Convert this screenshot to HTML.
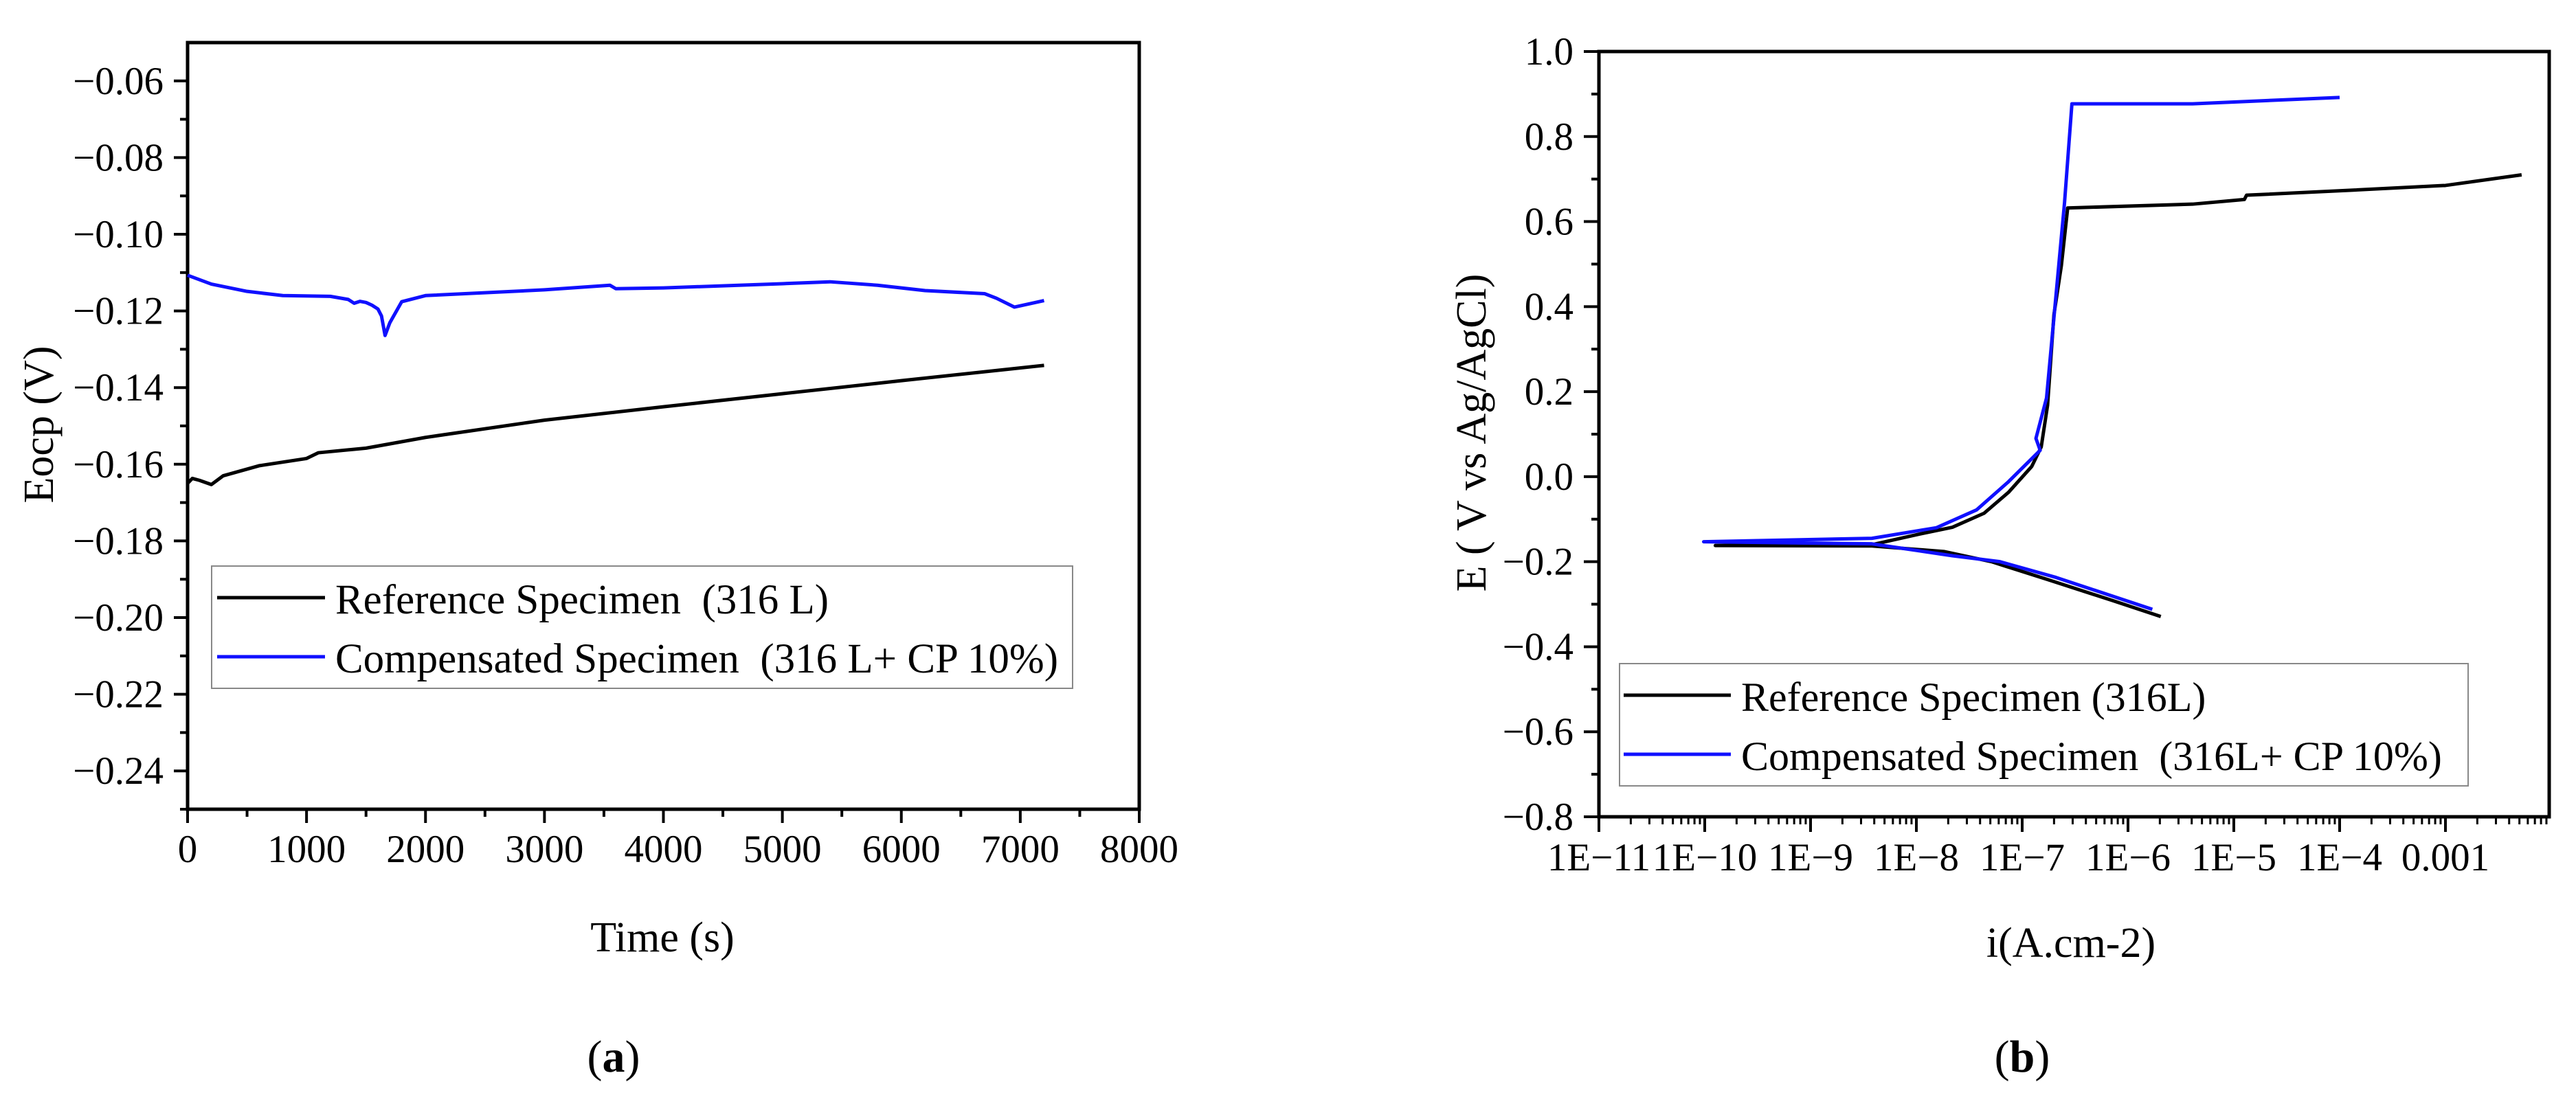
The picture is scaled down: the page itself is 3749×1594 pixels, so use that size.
<!DOCTYPE html>
<html><head><meta charset="utf-8"><style>
html,body{margin:0;padding:0;background:#fff}
svg{display:block}
text{font-family:"Liberation Serif",serif;fill:#000;white-space:pre}
</style></head><body>
<svg id="fig" width="3749" height="1594" viewBox="0 0 3749 1594" xmlns="http://www.w3.org/2000/svg"></svg>
<script>
// ---- Chart (a) data ----
const aRefT=[0,40,100,200,300,600,1000,1100,1500,2000,3000,4000,5000,6000,7200];
const aRefV=[-0.165,-0.1637,-0.1642,-0.1653,-0.163,-0.1604,-0.1585,-0.157,-0.1558,-0.153,-0.1485,-0.145,-0.1416,-0.1382,-0.1342];
const aCmpT=[0,200,500,800,1200,1350,1400,1450,1500,1550,1600,1630,1660,1700,1800,2000,3000,3550,3600,4000,5000,5400,5800,6200,6700,6800,6950,7200];
const aCmpV=[-0.1107,-0.113,-0.1149,-0.116,-0.1162,-0.117,-0.118,-0.1175,-0.1178,-0.1185,-0.1195,-0.1213,-0.1264,-0.1231,-0.1176,-0.116,-0.1145,-0.1133,-0.1142,-0.114,-0.1129,-0.1124,-0.1133,-0.1147,-0.1155,-0.1167,-0.119,-0.1173];
const aXTicks=[0,1000,2000,3000,4000,5000,6000,7000,8000];
const aYTicks=[-0.24,-0.22,-0.20,-0.18,-0.16,-0.14,-0.12,-0.10,-0.08,-0.06];
// ---- Chart (b) data (log10 current, potential) ----
const bRefLogI=[-5.69,-6.15,-6.76,-7.29,-7.74,-8.42,-9.9,-8.42,-7.97,-7.66,-7.36,-7.13,-6.91,-6.82,-6.76,-6.70,-6.63,-6.57,-5.39,-4.90,-4.88,-3.87,-3.0,-2.28];
const bRefE=[-0.329,-0.291,-0.242,-0.20,-0.176,-0.163,-0.162,-0.160,-0.135,-0.119,-0.086,-0.037,0.024,0.07,0.168,0.381,0.496,0.632,0.641,0.652,0.662,0.674,0.685,0.710];
const bCmpLogI=[-5.77,-6.68,-7.21,-7.66,-8.12,-8.42,-10.01,-8.42,-7.81,-7.43,-7.13,-6.83,-6.87,-6.77,-6.60,-6.53,-5.39,-4.0];
const bCmpE=[-0.312,-0.237,-0.20,-0.186,-0.169,-0.158,-0.153,-0.145,-0.12,-0.078,-0.012,0.062,0.09,0.185,0.644,0.877,0.877,0.892];
const bXTickLabels=["1E−11","1E−10","1E−9","1E−8","1E−7","1E−6","1E−5","1E−4","0.001"];
const bXTickLogs=[-11,-10,-9,-8,-7,-6,-5,-4,-3];
const bYTicks=[-0.8,-0.6,-0.4,-0.2,0.0,0.2,0.4,0.6,0.8,1.0];

const NS="http://www.w3.org/2000/svg";
const svg=document.getElementById('fig');
function el(tag,attrs,parent,txt){const e=document.createElementNS(NS,tag);for(const k in attrs)e.setAttribute(k,attrs[k]);if(txt!==undefined)e.textContent=txt;(parent||svg).appendChild(e);return e;}
const fmtM=v=>(v<0?"−":"")+Math.abs(v).toFixed(2);

// ===== Chart A =====
const A={l:273,r:1658,t:62,b:1178,x0:0,x1:8000,y0:-0.25,y1:-0.05};
const ax=v=>A.l+(v-A.x0)/(A.x1-A.x0)*(A.r-A.l);
const ay=v=>A.b-(v-A.y0)/(A.y1-A.y0)*(A.b-A.t);
const ga=el('g',{});


for(let i=0;i<aXTicks.length;i++){
  const x=ax(aXTicks[i]);
  el('line',{x1:x,y1:A.b,x2:x,y2:A.b+20,stroke:'#000','stroke-width':4},ga);
  const lb=el('text',{x:x,y:1255,'font-size':57,'text-anchor':'middle'},ga,String(aXTicks[i]));
  
  
  if(i<aXTicks.length-1){const xm=ax(aXTicks[i]+500);el('line',{x1:xm,y1:A.b,x2:xm,y2:A.b+11,stroke:'#000','stroke-width':4},ga);}
}
for(let i=0;i<aYTicks.length;i++){
  const y=ay(aYTicks[i]);
  el('line',{x1:A.l,y1:y,x2:A.l-20,y2:y,stroke:'#000','stroke-width':4},ga);
  const lb=el('text',{x:238,y:y+19,'font-size':57,'text-anchor':'end'},ga,fmtM(aYTicks[i]));
  
  
  const ym=ay(aYTicks[i]-0.01);el('line',{x1:A.l,y1:ym,x2:A.l-11,y2:ym,stroke:'#000','stroke-width':4},ga);
}
el('line',{x1:A.l,y1:ay(-0.05)+0,x2:A.l,y2:ay(-0.05),stroke:'#000','stroke-width':4},ga);
const fa=el('rect',{x:A.l,y:A.t,width:A.r-A.l,height:A.b-A.t,fill:'none',stroke:'#000','stroke-width':5},ga);


const pa1=el('polyline',{points:aRefT.map((t,i)=>ax(t)+','+ay(aRefV[i])).join(' '),fill:'none',stroke:'#000','stroke-width':5,'stroke-linejoin':'round'},ga);


const pa2=el('polyline',{points:aCmpT.map((t,i)=>ax(t)+','+ay(aCmpV[i])).join(' '),fill:'none',stroke:'#1010ff','stroke-width':5,'stroke-linejoin':'round'},ga);


const ta=el('text',{x:964,y:1385,'font-size':62,'text-anchor':'middle'},ga,'Time (s)');


const tya=el('text',{x:0,y:0,'font-size':62,'text-anchor':'middle',transform:'translate(77,618) rotate(-90)'},ga,'Eocp (V)');


const lga=el('g',{},ga);


el('rect',{x:308,y:824,width:1253,height:178,fill:'#fff',stroke:'#888','stroke-width':2},lga);
el('line',{x1:316,y1:870,x2:473,y2:870,stroke:'#000','stroke-width':5},lga);
el('text',{x:488,y:893,'font-size':61},lga,'Reference Specimen  (316 L)');
el('line',{x1:316,y1:956,x2:473,y2:956,stroke:'#1010ff','stroke-width':5},lga);
el('text',{x:488,y:979,'font-size':61},lga,'Compensated Specimen  (316 L+ CP 10%)');
const capa=el('text',{x:893,y:1560,'font-size':66,'text-anchor':'middle'},ga);


capa.innerHTML='(<tspan font-weight="bold">a</tspan>)';

// ===== Chart B =====
const B={l:2327,r:3710,t:75,b:1189,x0:-11,y0:-0.8,y1:1.0,dec:154};
const bx=v=>B.l+(v-B.x0)*B.dec;
const by=v=>B.b-(v-B.y0)/(B.y1-B.y0)*(B.b-B.t);
const gb=el('g',{});


for(let i=0;i<bXTickLogs.length;i++){
  const x=bx(bXTickLogs[i]);
  el('line',{x1:x,y1:B.b,x2:x,y2:B.b+22,stroke:'#000','stroke-width':4},gb);
  const lb=el('text',{x:x,y:1267,'font-size':57,'text-anchor':'middle'},gb,bXTickLabels[i]);
  
  
}
for(let d=-11;d<=-3;d++){for(let m=2;m<=9;m++){const x=bx(d+Math.log10(m));if(x<B.r)el('line',{x1:x,y1:B.b,x2:x,y2:B.b+11,stroke:'#000','stroke-width':3},gb);}}
for(let i=0;i<bYTicks.length;i++){
  const y=by(bYTicks[i]);
  el('line',{x1:B.l,y1:y,x2:B.l-22,y2:y,stroke:'#000','stroke-width':4},gb);
  const lb=el('text',{x:2290,y:y+19,'font-size':57,'text-anchor':'end'},gb,(bYTicks[i]<0?"−":"")+Math.abs(bYTicks[i]).toFixed(1));
  
  
  if(i<bYTicks.length-1){const ym=by(bYTicks[i]+0.1);el('line',{x1:B.l,y1:ym,x2:B.l-11,y2:ym,stroke:'#000','stroke-width':4},gb);}
}
const fb=el('rect',{x:B.l,y:B.t,width:B.r-B.l,height:B.b-B.t,fill:'none',stroke:'#000','stroke-width':5},gb);


const pb1=el('polyline',{points:bRefLogI.map((v,i)=>bx(v)+','+by(bRefE[i])).join(' '),fill:'none',stroke:'#000','stroke-width':5,'stroke-linejoin':'round'},gb);


const pb2=el('polyline',{points:bCmpLogI.map((v,i)=>bx(v)+','+by(bCmpE[i])).join(' '),fill:'none',stroke:'#1010ff','stroke-width':5,'stroke-linejoin':'round'},gb);


const tb=el('text',{x:3014,y:1393,'font-size':62,'text-anchor':'middle'},gb,'i(A.cm-2)');


const tyb=el('text',{x:0,y:0,'font-size':62,'text-anchor':'middle',transform:'translate(2162,630) rotate(-90)'},gb,'E ( V vs Ag/AgCl)');


const lgb=el('g',{},gb);


el('rect',{x:2357,y:966,width:1235,height:178,fill:'#fff',stroke:'#888','stroke-width':2},lgb);
el('line',{x1:2363,y1:1012,x2:2519,y2:1012,stroke:'#000','stroke-width':5},lgb);
el('text',{x:2534,y:1035,'font-size':60},lgb,'Reference Specimen (316L)');
el('line',{x1:2363,y1:1098,x2:2519,y2:1098,stroke:'#1010ff','stroke-width':5},lgb);
el('text',{x:2534,y:1121,'font-size':60},lgb,'Compensated Specimen  (316L+ CP 10%)');
const capb=el('text',{x:2943,y:1560,'font-size':66,'text-anchor':'middle'},gb);


capb.innerHTML='(<tspan font-weight="bold">b</tspan>)';
</script>
</body></html>
